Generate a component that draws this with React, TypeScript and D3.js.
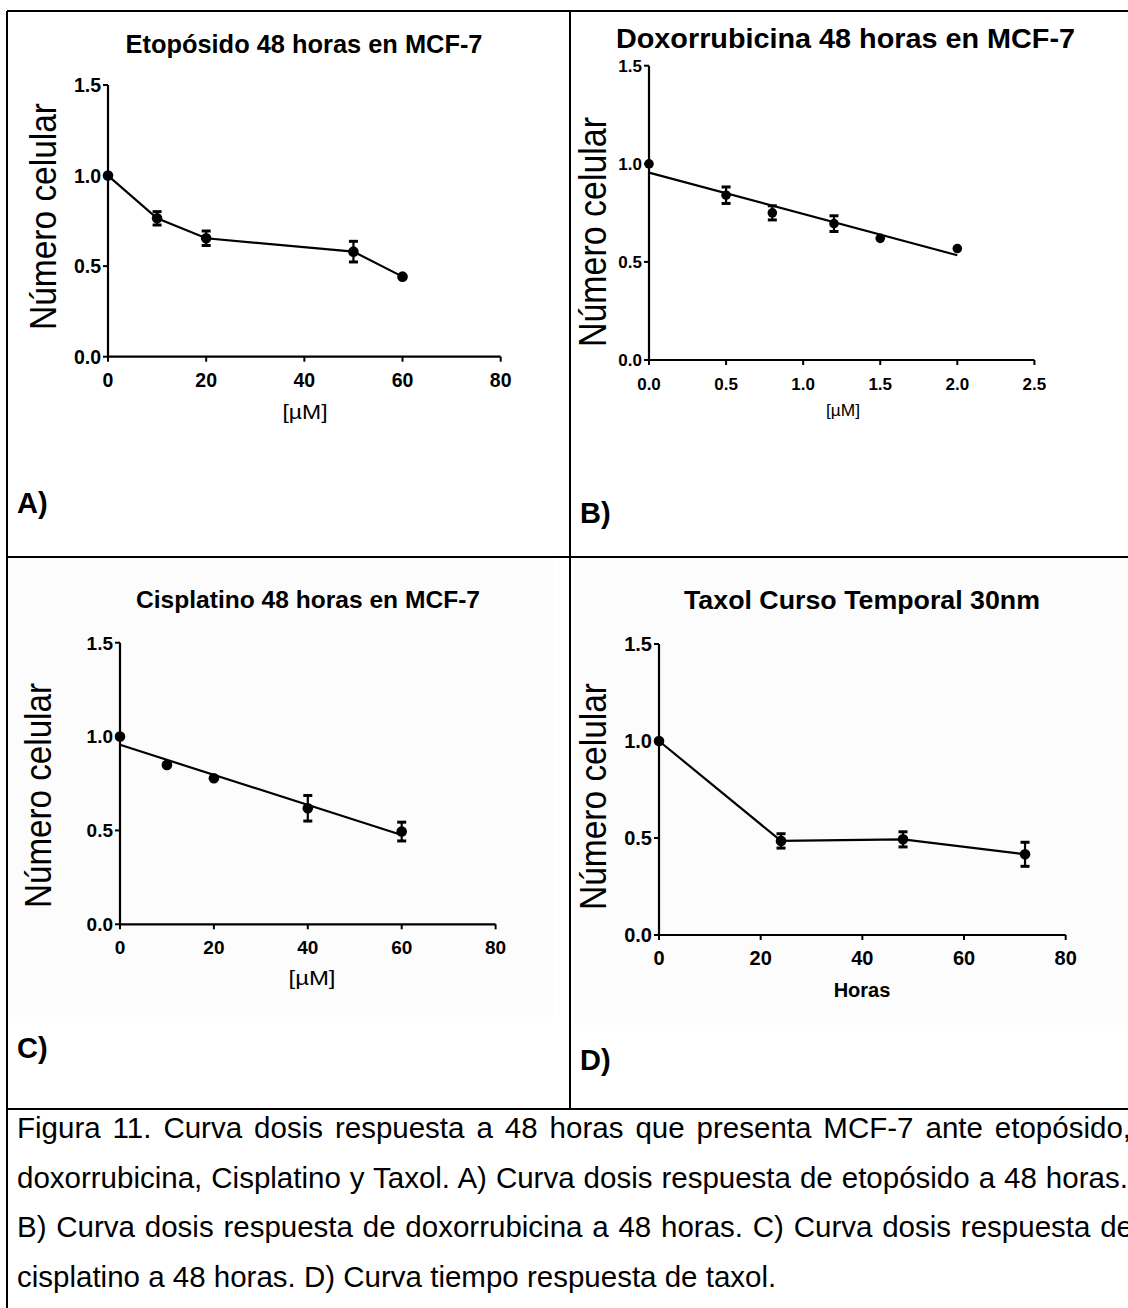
import * as d3 from "d3";

const FONT = '"Liberation Sans", Arial, Helvetica, sans-serif';

// A) Etopósido 48 h
const etoposidoDose = [0, 10, 20, 50, 60];
const etoposidoMean = [1.0, 0.764, 0.654, 0.58, 0.442];
const etoposidoErr = [0, 0.037, 0.04, 0.057, 0];

// B) Doxorrubicina 48 h (puntos + recta ajustada)
const doxoDose = [0, 0.5, 0.8, 1.2, 1.5, 2.0];
const doxoMean = [1.0, 0.84, 0.75, 0.695, 0.62, 0.568];
const doxoErr = [0, 0.042, 0.036, 0.04, 0, 0];
const doxoFitX = [0, 2.0];
const doxoFitY = [0.955, 0.534];

// C) Cisplatino 48 h (puntos + recta ajustada)
const cisDose = [0, 10, 20, 40, 60];
const cisMean = [1.0, 0.849, 0.778, 0.618, 0.494];
const cisErr = [0, 0, 0, 0.068, 0.05];
const cisFitX = [0, 60];
const cisFitY = [0.956, 0.476];

// D) Taxol curso temporal
const taxolHours = [0, 24, 48, 72];
const taxolMean = [1.0, 0.485, 0.493, 0.416];
const taxolErr = [0, 0.037, 0.039, 0.062];

const yTicks = [0, 0.5, 1.0, 1.5];
const umTicks = [0, 20, 40, 60, 80];
const doxoTicks = [0, 0.5, 1.0, 1.5, 2.0, 2.5];
const hourTicks = [0, 20, 40, 60, 80];

const captionLines = [
  "Figura 11. Curva dosis respuesta a 48 horas que presenta MCF-7 ante etopósido,",
  "doxorrubicina, Cisplatino y Taxol. A) Curva dosis respuesta de etopósido a 48 horas.",
  "B) Curva dosis respuesta de doxorrubicina a 48 horas. C) Curva dosis respuesta de",
  "cisplatino a 48 horas. D) Curva tiempo respuesta de taxol.",
];

type Series = {
  x: number[];
  y: number[];
  err: number[];
  fitX?: number[];
  fitY?: number[];
};

type Cfg = {
  title: string;
  titleX: number;
  titleY: number;
  titleSize: number;
  titleLen: number;
  x0: number;
  x1: number;
  yTop: number;
  yBottom: number;
  xDomain: [number, number];
  xTicks: number[];
  xFmt: (v: number) => string;
  tickSize: number;
  tickWeight: string;
  yLabX: number;
  yLabY: number;
  yLabLen: number;
  yLabSize: number;
  xLab: string;
  xLabX: number;
  xLabY: number;
  xLabSize: number;
  xLabWeight: string;
  xLabLen?: number;
  r: number;
};

const Panel = ({ cfg, s }: { cfg: Cfg; s: Series }) => {
  const x = d3.scaleLinear().domain(cfg.xDomain).range([cfg.x0, cfg.x1]);
  const y = d3.scaleLinear().domain([0, 1.5]).range([cfg.yBottom, cfg.yTop]);
  const pts = s.x.map((v, i) => ({ x: v, y: s.y[i], e: s.err[i] }));
  const line = d3
    .line<{ x: number; y: number }>()
    .x((d) => x(d.x))
    .y((d) => y(d.y));
  const curve = s.fitX
    ? line(s.fitX.map((v, i) => ({ x: v, y: s.fitY![i] })))
    : line(pts);

  return (
    <g fontFamily={FONT} fill="#000">
      <text
        x={cfg.titleX}
        y={cfg.titleY}
        textAnchor="middle"
        fontWeight="bold"
        fontSize={cfg.titleSize}
        textLength={cfg.titleLen}
        lengthAdjust="spacingAndGlyphs"
      >
        {cfg.title}
      </text>

      {/* ejes */}
      <line x1={cfg.x0} x2={cfg.x0} y1={cfg.yTop} y2={cfg.yBottom} stroke="#000" strokeWidth={2.2} />
      <line x1={cfg.x0} x2={cfg.x1} y1={cfg.yBottom} y2={cfg.yBottom} stroke="#000" strokeWidth={2.2} />
      {yTicks.map((t) => (
        <g key={t}>
          <line x1={cfg.x0 - 5} x2={cfg.x0} y1={y(t)} y2={y(t)} stroke="#000" strokeWidth={2} />
          <text
            x={cfg.x0 - 7}
            y={y(t)}
            dy="0.36em"
            textAnchor="end"
            fontSize={cfg.tickSize}
            fontWeight={cfg.tickWeight}
          >
            {d3.format(".1f")(t)}
          </text>
        </g>
      ))}
      {cfg.xTicks.map((t) => (
        <g key={t}>
          <line x1={x(t)} x2={x(t)} y1={cfg.yBottom} y2={cfg.yBottom + 5} stroke="#000" strokeWidth={2} />
          <text
            x={x(t)}
            y={cfg.yBottom + 30}
            textAnchor="middle"
            fontSize={cfg.tickSize}
            fontWeight={cfg.tickWeight}
          >
            {cfg.xFmt(t)}
          </text>
        </g>
      ))}

      <text
        transform={`translate(${cfg.yLabX},${cfg.yLabY}) scale(1.12,1) rotate(-90)`}
        textAnchor="middle"
        fontSize={cfg.yLabSize}
        textLength={cfg.yLabLen}
        lengthAdjust="spacingAndGlyphs"
      >
        Número celular
      </text>
      <text
        x={cfg.xLabX}
        y={cfg.xLabY}
        textAnchor="middle"
        fontSize={cfg.xLabSize}
        fontWeight={cfg.xLabWeight}
        textLength={cfg.xLabLen}
        lengthAdjust={cfg.xLabLen ? "spacingAndGlyphs" : undefined}
      >
        {cfg.xLab}
      </text>

      {/* curva */}
      <path d={curve ?? ""} fill="none" stroke="#000" strokeWidth={2.2} />
      {pts.map((p, i) =>
        p.e > 0 ? (
          <g key={`e${i}`} stroke="#000">
            <line x1={x(p.x)} x2={x(p.x)} y1={y(p.y - p.e)} y2={y(p.y + p.e)} strokeWidth={2.2} />
            <line x1={x(p.x) - 4.5} x2={x(p.x) + 4.5} y1={y(p.y - p.e)} y2={y(p.y - p.e)} strokeWidth={3} />
            <line x1={x(p.x) - 4.5} x2={x(p.x) + 4.5} y1={y(p.y + p.e)} y2={y(p.y + p.e)} strokeWidth={3} />
          </g>
        ) : null,
      )}
      {pts.map((p, i) => (
        <circle key={`p${i}`} cx={x(p.x)} cy={y(p.y)} r={cfg.r} fill="#000" />
      ))}
    </g>
  );
};

const intFmt = d3.format("d");
const decFmt = d3.format(".1f");

const cfgA: Cfg = {
  title: "Etopósido 48 horas en MCF-7",
  titleX: 304, titleY: 53, titleSize: 25, titleLen: 357,
  x0: 108, x1: 500.7, yTop: 85, yBottom: 356.7,
  xDomain: [0, 80], xTicks: umTicks, xFmt: intFmt,
  tickSize: 19.5, tickWeight: "bold",
  yLabX: 56, yLabY: 216.5, yLabLen: 227, yLabSize: 33,
  xLab: "[\u00b5M]", xLabX: 305, xLabY: 419, xLabSize: 20, xLabWeight: "normal", xLabLen: 45,
  r: 5.3,
};

const cfgB: Cfg = {
  title: "Doxorrubicina 48 horas en MCF-7",
  titleX: 845.5, titleY: 48.3, titleSize: 28, titleLen: 459,
  x0: 649, x1: 1034.4, yTop: 65.7, yBottom: 360,
  xDomain: [0, 2.5], xTicks: doxoTicks, xFmt: decFmt,
  tickSize: 17, tickWeight: "bold",
  yLabX: 605.6, yLabY: 232, yLabLen: 230, yLabSize: 34,
  xLab: "[\u00b5M]", xLabX: 843, xLabY: 416, xLabSize: 17, xLabWeight: "normal", xLabLen: 34,
  r: 4.8,
};

const cfgC: Cfg = {
  title: "Cisplatino 48 horas en  MCF-7",
  titleX: 308, titleY: 608.3, titleSize: 24, titleLen: 344,
  x0: 120, x1: 495.6, yTop: 642.7, yBottom: 924.3,
  xDomain: [0, 80], xTicks: umTicks, xFmt: intFmt,
  tickSize: 19, tickWeight: "bold",
  yLabX: 51, yLabY: 795.5, yLabLen: 225, yLabSize: 33,
  xLab: "[\u00b5M]", xLabX: 312, xLabY: 985, xLabSize: 21, xLabWeight: "normal", xLabLen: 47,
  r: 5.3,
};

const cfgD: Cfg = {
  title: "Taxol Curso Temporal 30nm",
  titleX: 862, titleY: 609.3, titleSize: 26.5, titleLen: 356,
  x0: 659, x1: 1065.7, yTop: 644, yBottom: 935,
  xDomain: [0, 80], xTicks: hourTicks, xFmt: intFmt,
  tickSize: 20, tickWeight: "bold",
  yLabX: 605.6, yLabY: 796.5, yLabLen: 227, yLabSize: 33,
  xLab: "Horas", xLabX: 862, xLabY: 997, xLabSize: 20, xLabWeight: "bold",
  r: 5.3,
};

// ancho natural de una línea para justificarla
const measure = (() => {
  const ctx = document.createElement("canvas").getContext("2d")!;
  return (txt: string, font: string) => {
    ctx.font = font;
    return ctx.measureText(txt).width;
  };
})();

const CAP_SIZE = 29.5;
const captionEnds = [1131, 1130, 1133];

export default function App() {
  const capFont = `${CAP_SIZE}px "Liberation Sans", Arial, sans-serif`;
  return (
    <div style={{ position: "absolute", left: 0, top: 0 }}>
      <svg width={1128} height={1308} style={{ display: "block", background: "#fff" }}>
        {/* fondos casi blancos de las imágenes C y D */}
        <rect x={8} y={558} width={545} height={459} fill="#fcfcfc" />
        <rect x={575} y={558} width={553} height={467} fill="#fcfcfc" />

        <Panel cfg={cfgA} s={{ x: etoposidoDose, y: etoposidoMean, err: etoposidoErr }} />
        <Panel
          cfg={cfgB}
          s={{ x: doxoDose, y: doxoMean, err: doxoErr, fitX: doxoFitX, fitY: doxoFitY }}
        />
        <Panel
          cfg={cfgC}
          s={{ x: cisDose, y: cisMean, err: cisErr, fitX: cisFitX, fitY: cisFitY }}
        />
        <Panel cfg={cfgD} s={{ x: taxolHours, y: taxolMean, err: taxolErr }} />

        {/* tabla */}
        <g stroke="#000" strokeWidth={2}>
          <line x1={7} x2={1128} y1={11} y2={11} />
          <line x1={7} x2={7} y1={11} y2={1308} />
          <line x1={570} x2={570} y1={11} y2={1109} />
          <line x1={7} x2={1128} y1={557} y2={557} />
          <line x1={7} x2={1128} y1={1109} y2={1109} />
        </g>

        <g fontFamily={FONT} fontWeight="bold" fontSize={29}>
          <text x={17} y={513}>A)</text>
          <text x={580} y={523}>B)</text>
          <text x={17} y={1058}>C)</text>
          <text x={580} y={1070}>D)</text>
        </g>

        <g fontFamily={FONT} fontSize={CAP_SIZE}>
          {captionLines.map((ln, i) => {
            let ws = 0;
            if (i < captionEnds.length) {
              const spaces = (ln.match(/ /g) || []).length;
              ws = (captionEnds[i] - 17 - measure(ln, capFont)) / spaces;
            }
            return (
              <text key={i} x={17} y={1138 + i * 49.6} style={{ wordSpacing: `${ws}px` }}>
                {ln}
              </text>
            );
          })}
        </g>
      </svg>
    </div>
  );
}
